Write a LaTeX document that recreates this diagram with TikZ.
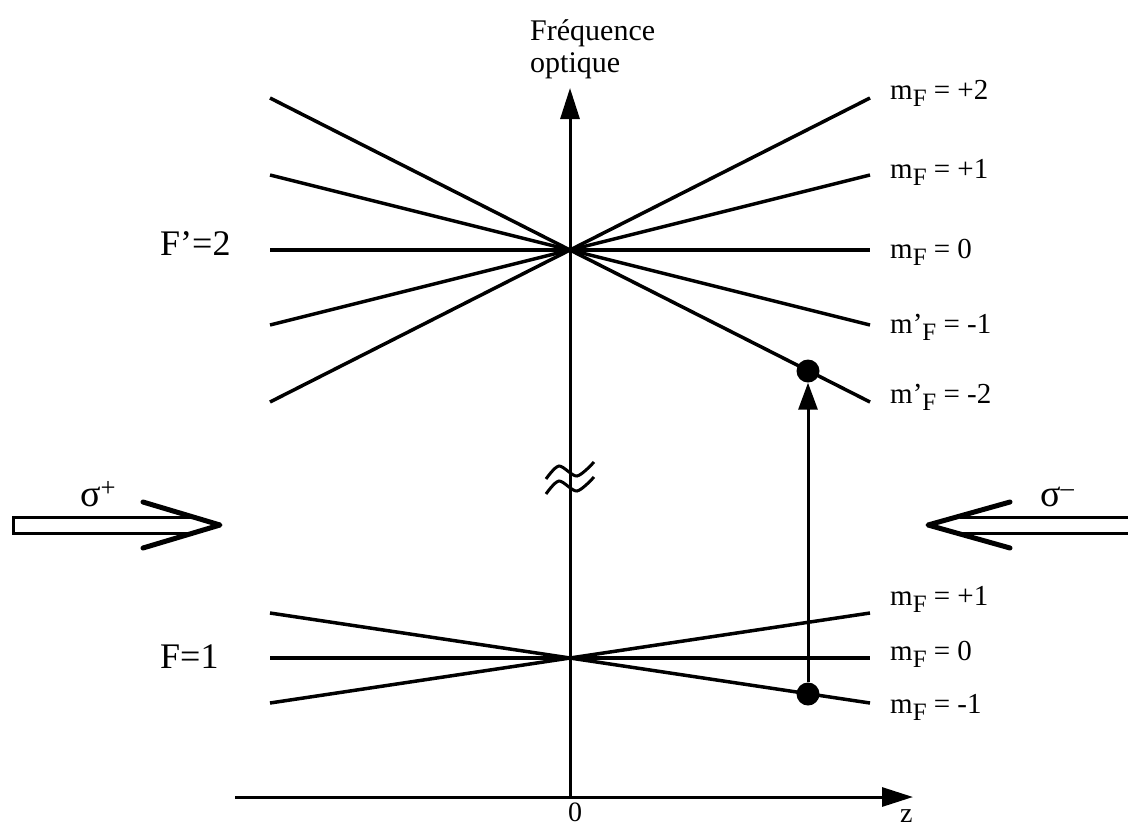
\documentclass[tikz,border=0pt]{standalone}
\usepackage{fontspec}
\setmainfont{Liberation Serif}
\usetikzlibrary{arrows.meta}
\tikzstyle{niveau} = [line width=3.5pt]
\tikzstyle{axe} = [line width=3pt, -{Triangle[length=31pt,width=19pt]}]
\tikzstyle{transition} = [line width=3pt, -{Triangle[length=27pt,width=19pt]}]
\tikzstyle{point} = [circle, fill=black, inner sep=0pt, minimum size=23pt]
\tikzstyle{etiq} = [anchor=base west, inner sep=0pt, font=\fontsize{29}{31}\selectfont]
\tikzstyle{grand} = [anchor=base west, inner sep=0pt, font=\fontsize{36}{38}\selectfont]
\tikzstyle{texte} = [anchor=base west, inner sep=0pt, font=\fontsize{30}{32}\selectfont]
\tikzstyle{sigma} = [anchor=base west, inner sep=0pt, font=\fontsize{38}{40}\selectfont]
\tikzstyle{faisceau} = [line width=3pt]
\tikzstyle{pointe} = [line width=5pt, line cap=round, line join=round]
\newcommand{\mFlab}[2]{m#1\raisebox{-7pt}{\fontsize{25}{25}\selectfont F} = #2}

\begin{document}
\begin{tikzpicture}[x=1pt, y=-1pt]
    \useasboundingbox (0,0) rectangle (1128,828);

    % Axes
    \coordinate (origine) at (570,797);
    \coordinate (gauche) at (235,797);
    \coordinate (zmax) at (913,797);
    \coordinate (fmax) at (570,88);
    \draw [axe] (gauche) -- (zmax);
    \draw [axe] (origine) -- (fmax);
    \node (freq) [texte] at (530,40) {Fréquence};
    \node (opt) [texte] at (530,72) {optique};
    \node (zero) [texte, anchor=base, font=\fontsize{28}{30}\selectfont] at (575,821) {0};
    \node (z) [texte, font=\fontsize{28}{30}\selectfont] at (900,822) {z};

    % Niveau F'=2
    \foreach \d in {152,75,0} {
        \draw [niveau] (270,{250-\d}) -- (870,{250+\d});
        \draw [niveau] (270,{250+\d}) -- (870,{250-\d});
    }
    \node (Fp) [grand] at (160,255) {F'=2};
    \node (hp2) [etiq] at (890,99) {\mFlab{}{+2}};
    \node (hp1) [etiq] at (890,178) {\mFlab{}{+1}};
    \node (h0) [etiq] at (890,258) {\mFlab{}{0}};
    \node (hm1) [etiq] at (890,333) {\mFlab{'}{-1}};
    \node (hm2) [etiq] at (890,403) {\mFlab{'}{-2}};

    % Niveau F=1
    \foreach \d in {45,0} {
        \draw [niveau] (270,{658-\d}) -- (870,{658+\d});
        \draw [niveau] (270,{658+\d}) -- (870,{658-\d});
    }
    \node (F) [grand] at (160,668) {F=1};
    \node (bp1) [etiq] at (890,605) {\mFlab{}{+1}};
    \node (b0) [etiq] at (890,660) {\mFlab{}{0}};
    \node (bm1) [etiq] at (890,713) {\mFlab{}{-1}};

    % Transition
    \node (depart) [point] at (808,694) {};
    \node (arrivee) [point] at (808,371) {};
    \draw [transition] (depart) -- (arrivee);

    % Coupure de l'axe
    \foreach \e in {0,15}
        \draw [line width=3pt, yshift=\e] plot[smooth] coordinates {(546,494) (559,481) (577,491) (594,477)};

    % Faisceaux sigma
    \draw [faisceau] (193,517) -- (13,517) -- (13,533) -- (193,533);
    \draw [pointe] (143,502) -- (220,525) -- (143,548);
    \node (splus) [sigma] at (80,506) {σ\textsuperscript{+}};
    \draw [faisceau] (960,517) -- (1130,517);
    \draw [faisceau] (960,533) -- (1130,533);
    \draw [pointe] (1010,502) -- (928,525) -- (1010,548);
    \node (smoins) [sigma] at (1040,506) {σ\textsuperscript{–}};
\end{tikzpicture}
\end{document}
